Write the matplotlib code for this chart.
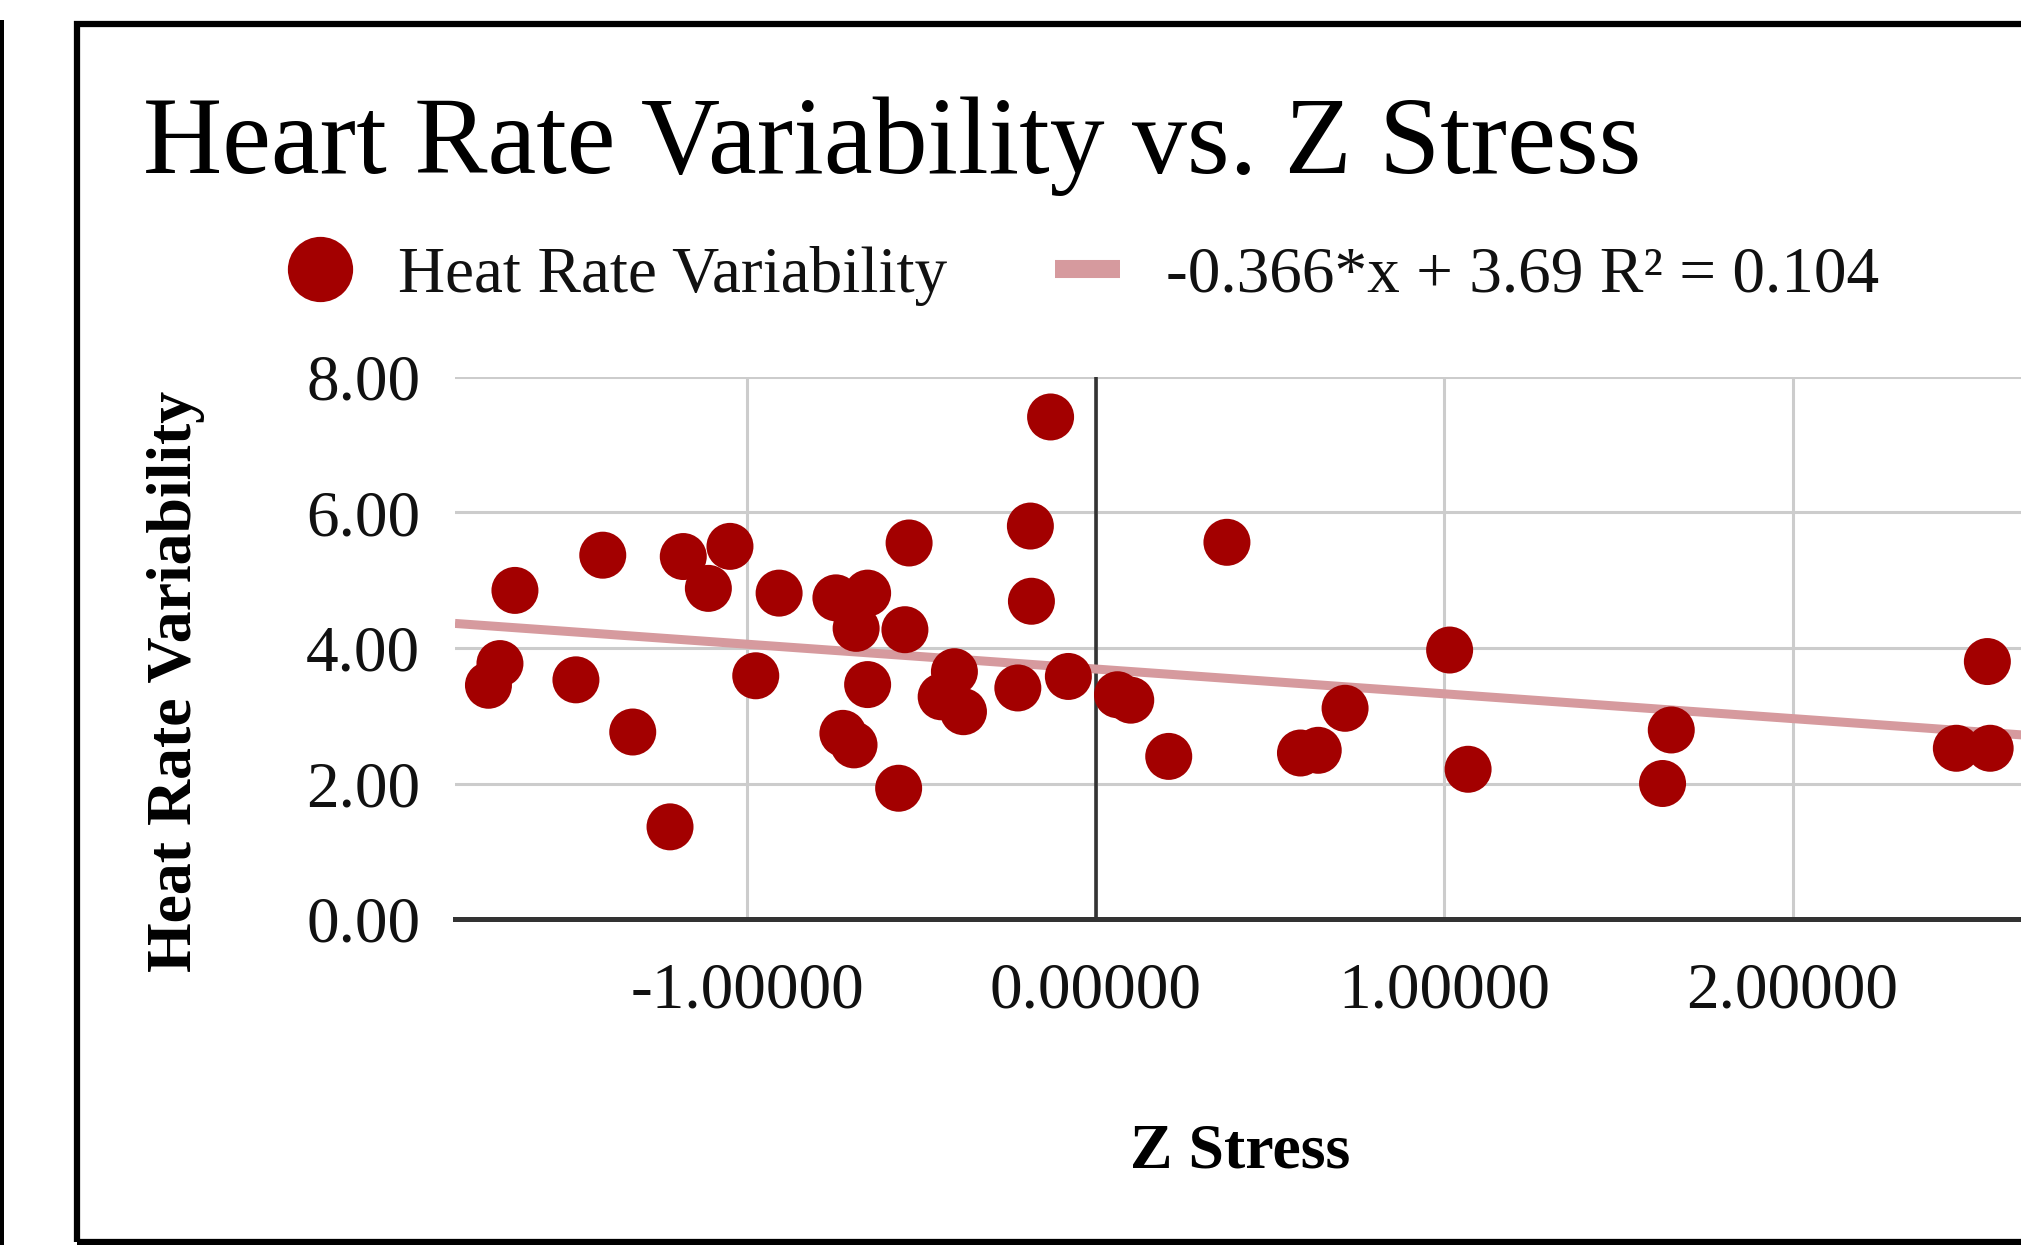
import matplotlib
matplotlib.use('Agg')
import matplotlib.pyplot as plt
from matplotlib.lines import Line2D
from matplotlib.patches import Rectangle
from matplotlib.ticker import FixedLocator, FormatStrFormatter

# values
z_stress = [-1.666, -1.414, -1.183, -1.049, -1.111, -1.709, -1.742, -1.491, -1.328, -1.221,
            -0.975, -0.129, -0.187, -0.184, 0.377, -0.535, -0.908, -0.745, -0.654, -0.687,
            -0.547, -0.654, -0.405, -0.443, -0.379, -0.223, -0.078, 0.063, 0.101, -0.725,
            -0.693, -0.565, 0.210, 0.588, 0.639, 0.716, 1.016, 1.069, 1.652, 1.627,
            2.559, 2.470, 2.567]
hrv = [4.85, 5.37, 5.35, 5.50, 4.88, 3.77, 3.45, 3.53, 2.76, 1.36,
       3.59, 7.41, 5.80, 4.69, 5.56, 5.55, 4.81, 4.74, 4.81, 4.29,
       4.27, 3.46, 3.65, 3.28, 3.06, 3.41, 3.58, 3.31, 3.23, 2.74,
       2.57, 1.93, 2.40, 2.45, 2.49, 3.11, 3.97, 2.21, 2.79, 2.00,
       3.80, 2.52, 2.52]
trend_slope = -0.366
trend_intercept = 3.69
r_squared = 0.104
x_ticks = [-1, 0, 1, 2]
y_ticks = [0, 2, 4, 6, 8]

plt.rcParams['font.family'] = ['Liberation Serif', 'DejaVu Serif']
plt.rcParams['axes.unicode_minus'] = False

W, H = 2021, 1245
dot_color = '#a30000'
trend_color = '#d69a9e'

fig = plt.figure(figsize=(W / 100, H / 100), dpi=100)
ax = fig.add_axes([455 / W, 1 - 919 / H, (2025 - 455) / W, (919 - 377) / H])

xmin, xmax = -1.838, 2.667
ax.set_xlim(xmin, xmax)
ax.set_ylim(0, 8)

ax.grid(True, color='#cccccc', linewidth=2.2)
ax.set_axisbelow(True)
ax.axvline(0, color='#333333', linewidth=2.6, zorder=1.5)

ax.plot([xmin, xmax], [trend_slope * xmin + trend_intercept, trend_slope * xmax + trend_intercept],
        color=trend_color, linewidth=6.5, solid_capstyle='butt', zorder=2)
ax.scatter(z_stress, hrv, s=1145, color=dot_color, edgecolors='none', zorder=3)

for side in ['top', 'right', 'left']:
    ax.spines[side].set_visible(False)
ax.spines['bottom'].set_color('#333333')
ax.spines['bottom'].set_linewidth(3.6)
ax.spines['bottom'].set_zorder(1.6)

ax.xaxis.set_major_locator(FixedLocator(x_ticks))
ax.yaxis.set_major_locator(FixedLocator(y_ticks))
ax.xaxis.set_major_formatter(FormatStrFormatter('%.5f'))
ax.yaxis.set_major_formatter(FormatStrFormatter('%.2f'))
ax.tick_params(axis='both', length=0, labelsize=47, colors='#111111')
ax.tick_params(axis='x', pad=31)
ax.tick_params(axis='y', pad=25)

fig.text(143 / W, 1 - 173 / H, 'Heart Rate Variability vs. Z Stress', fontsize=79,
         ha='left', va='baseline', color='black')
fig.text(176 / W, 1 - 681 / H, 'Heat Rate Variability', fontsize=46, fontweight='bold',
         rotation=90, ha='center', va='center', color='black')
fig.text(1240 / W, 1 - 1152 / H, 'Z Stress', fontsize=46, fontweight='bold',
         ha='center', va='center', color='black')

handles = [
    Line2D([], [], linestyle='none', marker='o', markersize=47, color=dot_color, markeredgewidth=0),
    Line2D([], [], color=trend_color, linewidth=13, solid_capstyle='butt'),
]
labels = ['Heat Rate Variability', f'{trend_slope}*x + {trend_intercept} R\u00b2 = {r_squared}']
fig.legend(handles, labels, loc='center left', bbox_to_anchor=(287 / W, 1 - 276 / H), ncol=2,
           frameon=False, fontsize=47, handlelength=1.0, handletextpad=0.7, columnspacing=1.65,
           borderpad=0, borderaxespad=0, labelcolor='#111111')

# screenshot frame
fig.add_artist(Rectangle((77 / W, 3 / H), 2.0, (1245 - 24 - 3) / H,
                         transform=fig.transFigure, fill=False, edgecolor='black', linewidth=4.5))
fig.add_artist(Rectangle((0, 0), 4 / W, (1245 - 20) / H, transform=fig.transFigure,
                         facecolor='black', edgecolor='none'))

fig.savefig('out.png', dpi=100)
